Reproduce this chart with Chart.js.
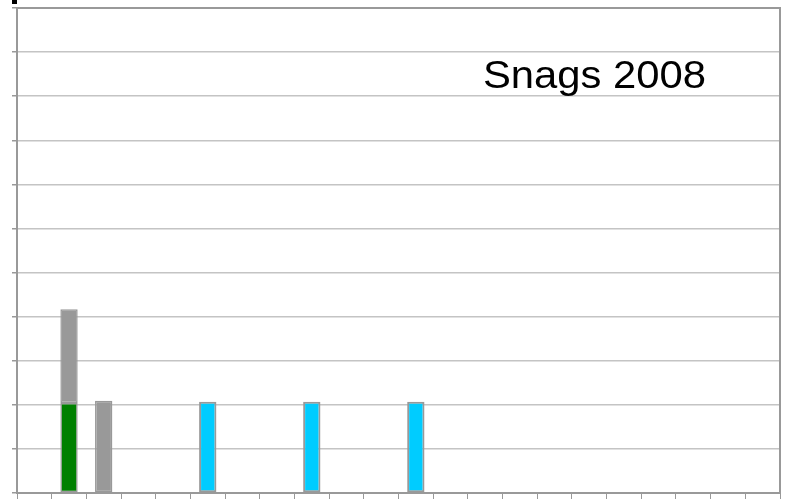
<!DOCTYPE html>
<html>
<head>
<meta charset="utf-8">
<script src="https://cdn.jsdelivr.net/npm/chart.js@4/dist/chart.umd.min.js"></script>
<style>
html,body{margin:0;padding:0;background:#fff;}
#wrap{position:relative;width:786px;height:503px;}
</style>
</head>
<body>
<div id="wrap"><canvas id="c" width="786" height="503"></canvas></div>
<script>
// Data
const categories = ["1","2","3","4","5","6","7","8","9","10","11","12","13","14","15","16","17","18","19","20","21","22"];
const greenValues = [null,2.04,null,null,null,null,null,null,null,null,null,null,null,null,null,null,null,null,null,null,null,null];
const grayValues  = [null,2.13,2.09,null,null,null,null,null,null,null,null,null,null,null,null,null,null,null,null,null,null,null];
const cyanValues  = [null,null,null,null,null,2.07,null,null,2.07,null,null,2.07,null,null,null,null,null,null,null,null,null,null];
const yTicks = [0,1,2,3,4,5,6,7,8,9,10,11];
const titleText = "Snags 2008";

const decor = {
  id: 'decor',
  afterDraw(chart) {
    const ctx = chart.ctx, a = chart.chartArea;
    ctx.save();
    ctx.strokeStyle = '#999999';
    ctx.lineWidth = 2;
    ctx.beginPath();
    ctx.moveTo(a.left, a.top);
    ctx.lineTo(a.right, a.top);
    ctx.lineTo(a.right, a.bottom);
    ctx.stroke();
    ctx.fillStyle = '#000';
    ctx.fillRect(12, 0, 5, 4);
    ctx.font = '38px "Liberation Sans", Arial, sans-serif';
    ctx.fillStyle = '#000';
    ctx.textBaseline = 'alphabetic';
    const w = ctx.measureText(titleText).width;
    ctx.translate(483, 88);
    ctx.scale(223 / w, 1);
    ctx.fillText(titleText, 0, 0);
    ctx.restore();
  }
};

new Chart(document.getElementById('c'), {
  type: 'bar',
  data: {
    labels: categories,
    datasets: [
      {label:'green', data: greenValues, backgroundColor:'#008000', borderColor:'#999999', borderWidth:1.5, borderSkipped:false},
      {label:'gray', data: grayValues, backgroundColor:'#999999', borderColor:'#999999', borderWidth:1.5, borderSkipped:false},
      {label:'cyan', data: cyanValues, backgroundColor:'#00CCFF', borderColor:'#999999', borderWidth:2, borderSkipped:false}
    ]
  },
  plugins: [decor],
  options: {
    responsive: false,
    animation: false,
    devicePixelRatio: 1,
    layout: {padding: {left: 0, top: 8, right: 6, bottom: 0}},
    plugins: {legend: {display: false}, tooltip: {enabled: false}, title: {display: false}},
    datasets: {bar: {categoryPercentage: 1, barPercentage: 0.5, grouped: false}},
    scales: {
      x: {
        stacked: true,
        offset: true,
        ticks: {display: false},
        grid: {display: true, drawOnChartArea: false, drawTicks: true, tickLength: 6, color: '#999999', offset: true, lineWidth: 1},
        border: {display: true, color: '#999999', width: 2},
        afterFit(s) { s.height = 10; }
      },
      y: {
        stacked: true,
        min: 0,
        max: 11,
        afterBuildTicks(s) { s.ticks = yTicks.map(v => ({value: v})); },
        ticks: {display: false},
        grid: {color: '#c4c4c4', tickColor: '#999999', tickLength: 5, lineWidth: 1.5},
        border: {display: true, color: '#999999', width: 2},
        afterFit(s) { s.width = 17; }
      }
    }
  }
});
</script>
</body>
</html>
